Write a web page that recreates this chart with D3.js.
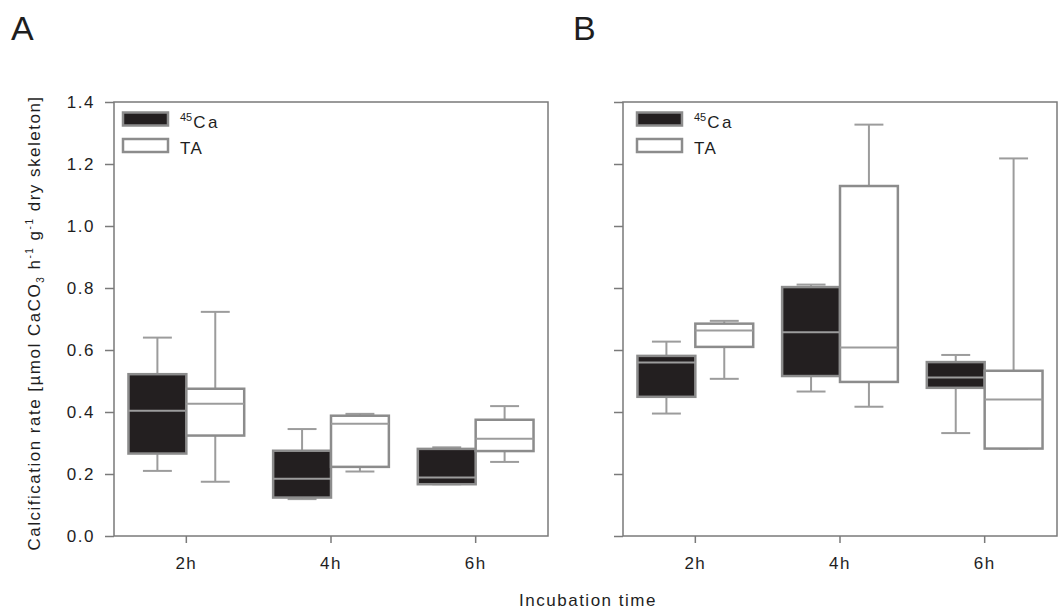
<!DOCTYPE html>
<html>
<head>
<meta charset="utf-8">
<script src="https://cdn.jsdelivr.net/npm/d3@7"></script>
<style>
    body { margin: 0; background: #fff; }
    svg { display: block; font-family: Arial, "Liberation Sans", sans-serif; }
</style>
</head>
<body>
<svg id="chart" width="1061" height="611"></svg>
<script>
// incubation times on the x axis
var categories = ["2h", "4h", "6h"];
var yTickValues = [0.0, 0.2, 0.4, 0.6, 0.8, 1.0, 1.2, 1.4];

// each box: [lower whisker, q1, median, q3, upper whisker]
var panelA_Ca = [
    [0.210, 0.266, 0.404, 0.522, 0.640],
    [0.119, 0.124, 0.185, 0.275, 0.345],
    [0.167, 0.167, 0.189, 0.281, 0.286]
];
var panelA_TA = [
    [0.175, 0.324, 0.427, 0.475, 0.723],
    [0.208, 0.223, 0.362, 0.388, 0.394],
    [0.239, 0.274, 0.314, 0.375, 0.419]
];
var panelB_Ca = [
    [0.395, 0.449, 0.560, 0.581, 0.627],
    [0.466, 0.516, 0.657, 0.803, 0.811],
    [0.332, 0.478, 0.511, 0.561, 0.584]
];
var panelB_TA = [
    [0.507, 0.610, 0.663, 0.685, 0.694],
    [0.417, 0.497, 0.608, 1.129, 1.327],
    [0.282, 0.282, 0.440, 0.533, 1.218]
];

var AXIS_COLOR = '#7a7a7a';
var BOX_STROKE = '#8c8c8c';
var WHISKER_COLOR = '#9c9c9c';
var CA_FILL = '#231f20';
var TEXT_COLOR = '#1e1e1e';

var svg = d3.select("#chart");

var plotTop = 102, plotBottom = 536;
var y = d3.scaleLinear().domain([0, 1.4]).range([plotBottom, plotTop]);

function drawBoxes(g, x, data, side, fill) {
    var bw = x.bandwidth() * 0.4;
    var capW = bw / 2;

    data.forEach(function (d, i) {
        var cx = x(categories[i]) + x.bandwidth() / 2;
        var left = side === 'left' ? cx - bw : cx;
        var mid = left + bw / 2;

        // whiskers
        g.append("line")
            .attr("x1", mid).attr("x2", mid)
            .attr("y1", y(d[0])).attr("y2", y(d[4]))
            .attr("stroke", WHISKER_COLOR).attr("stroke-width", 2);
        [d[0], d[4]].forEach(function (v) {
            g.append("line")
                .attr("x1", mid - capW / 2).attr("x2", mid + capW / 2)
                .attr("y1", y(v)).attr("y2", y(v))
                .attr("stroke", WHISKER_COLOR).attr("stroke-width", 2);
        });

        g.append("rect")
            .attr("x", left)
            .attr("y", y(d[3]))
            .attr("width", bw)
            .attr("height", y(d[1]) - y(d[3]))
            .attr("fill", fill)
            .attr("stroke", BOX_STROKE)
            .attr("stroke-width", 2.5);

        g.append("line")
            .attr("x1", left).attr("x2", left + bw)
            .attr("y1", y(d[2])).attr("y2", y(d[2]))
            .attr("stroke", WHISKER_COLOR).attr("stroke-width", 2);
    });
}

function drawLegend(g, lx) {
    var items = [
        {fill: CA_FILL, y: 112.5},
        {fill: '#fff', y: 139}
    ];
    items.forEach(function (it) {
        g.append("rect")
            .attr("x", lx).attr("y", it.y)
            .attr("width", 45).attr("height", 13)
            .attr("fill", it.fill)
            .attr("stroke", BOX_STROKE)
            .attr("stroke-width", 2.5);
    });

    var t1 = g.append("text")
        .attr("x", lx + 57).attr("y", 128)
        .attr("fill", TEXT_COLOR)
        .style("font-size", "17px");
    t1.append("tspan").text("45").style("font-size", "11px").attr("dy", -7);
    t1.append("tspan").text("Ca").attr("dy", 7).attr("dx", 1).style("letter-spacing", "2.5px");

    g.append("text")
        .attr("x", lx + 57).attr("y", 153.5)
        .attr("fill", TEXT_COLOR)
        .style("font-size", "17px")
        .style("letter-spacing", "1.5px")
        .text("TA");
}

function drawPanel(left, right, opts) {
    var g = svg.append("g");
    var x = d3.scaleBand().domain(categories).range([left, right]).padding(0);

    // frame
    g.append("rect")
        .attr("x", left).attr("y", plotTop)
        .attr("width", right - left).attr("height", plotBottom - plotTop)
        .attr("fill", "none")
        .attr("stroke", AXIS_COLOR)
        .attr("stroke-width", 1.5);

    var yAxis = d3.axisLeft(y).tickValues(yTickValues).tickSize(9).tickPadding(10)
        .tickFormat(opts.yLabels ? d3.format(".1f") : "");
    var ya = g.append("g").attr("transform", "translate(" + left + ",0)").call(yAxis);
    ya.select(".domain").remove();

    var xAxis = d3.axisBottom(x).tickSize(7).tickPadding(14);
    var xa = g.append("g").attr("transform", "translate(0," + plotBottom + ")").call(xAxis);
    xa.select(".domain").remove();

    [ya, xa].forEach(function (a) {
        a.selectAll(".tick line").attr("stroke", AXIS_COLOR).attr("stroke-width", 1.5);
        a.selectAll(".tick text")
            .attr("fill", TEXT_COLOR)
            .style("font-size", "17px")
            .style("letter-spacing", "1.5px")
            .style("font-family", "Arial, 'Liberation Sans', sans-serif");
    });

    drawBoxes(g, x, opts.ca, 'left', CA_FILL);
    drawBoxes(g, x, opts.ta, 'right', '#fff');
    drawLegend(g, opts.legendX);

    svg.append("text")
        .attr("x", opts.letterX).attr("y", 40)
        .attr("fill", TEXT_COLOR)
        .style("font-size", "34px")
        .text(opts.letter);
}

drawPanel(114, 548, {ca: panelA_Ca, ta: panelA_TA, yLabels: true, legendX: 123, letter: "A", letterX: 11});
drawPanel(623, 1057, {ca: panelB_Ca, ta: panelB_TA, yLabels: false, legendX: 637, letter: "B", letterX: 573});

// y axis title
var yt = svg.append("text")
    .attr("transform", "translate(40," + ((plotTop + plotBottom) / 2 + 4) + ") rotate(-90)")
    .attr("text-anchor", "middle")
    .attr("fill", TEXT_COLOR)
    .style("font-size", "17px")
    .style("letter-spacing", "1.5px");
yt.append("tspan").text("Calcification rate [\u00b5mol CaCO");
yt.append("tspan").text("3").style("font-size", "10px").attr("dy", 4);
yt.append("tspan").text(" h").attr("dy", -4);
yt.append("tspan").text("-1").style("font-size", "10px").attr("dy", -7);
yt.append("tspan").text(" g").attr("dy", 7);
yt.append("tspan").text("-1").style("font-size", "10px").attr("dy", -7);
yt.append("tspan").text(" dry skeleton]").attr("dy", 7);

// x axis title
svg.append("text")
    .attr("x", 588).attr("y", 606)
    .attr("text-anchor", "middle")
    .attr("fill", TEXT_COLOR)
    .style("font-size", "17px")
    .style("letter-spacing", "1.5px")
    .text("Incubation time");
</script>
</body>
</html>
